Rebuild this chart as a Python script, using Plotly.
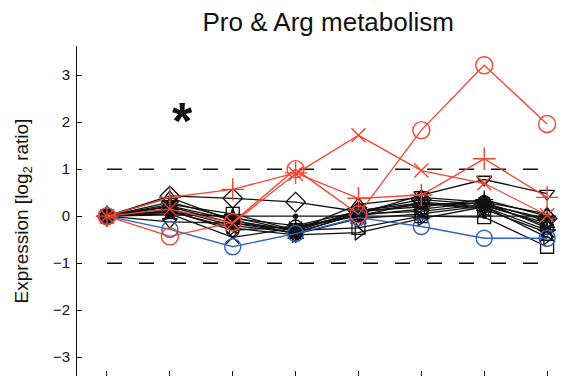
import plotly.graph_objects as go

x_vals = [1, 2, 3, 4, 5, 6, 7, 8]
y_ticks = [-3, -2, -1, 0, 1, 2, 3]
threshold_levels = [1, -1]

black_series = {
    "diamond-open":        [0, 0.43, 0.38, 0.30, 0.10, 0.35, 0.25, -0.05],
    "square-open":         [0, 0.25, 0.05, -0.30, -0.25, 0.00, -0.02, -0.65],
    "triangle-down-open":  [0, -0.12, -0.15, -0.35, 0.05, 0.45, 0.78, 0.48],
    "triangle-up-open":    [0, 0.40, -0.10, -0.30, 0.25, 0.40, 0.30, 0.05],
    "triangle-right-open": [0, 0.10, -0.25, -0.40, -0.35, -0.05, 0.20, -0.45],
    "triangle-left-open":  [0, 0.15, -0.20, -0.35, 0.05, 0.10, 0.25, -0.20],
    "x-thin-open":         [0, 0.05, -0.45, -0.25, 0.00, 0.30, 0.20, -0.30],
    "cross-thin-open":     [0, 0.30, -0.05, -0.20, 0.10, 0.20, 0.35, 0.00],
    "asterisk-open":       [0, 0.20, -0.15, -0.28, 0.08, 0.25, 0.28, -0.10],
    "circle-open":         [0, 0.12, -0.30, -0.22, 0.02, 0.15, 0.30, -0.25],
    "hexagram-open":       [0, 0.22, -0.08, -0.38, -0.05, 0.05, 0.22, -0.15],
    "star-open":           [0, 0.08, -0.02, -0.32, 0.12, 0.28, 0.15, -0.35],
    "circle":              [0, 0.03, 0.00, 0.00, 0.00, 0.00, 0.00, 0.00],
}
blue_circle = [0, -0.28, -0.65, -0.37, -0.03, -0.22, -0.47, -0.47]
red_x = [0, 0.15, -0.15, 0.90, 1.72, 0.97, 0.70, 0.02]
red_plus = [0, 0.40, 0.57, 0.92, 0.38, 0.45, 1.22, 0.40]
red_circle = [0, -0.43, -0.13, 1.00, 0.04, 1.83, 3.21, 1.96]

BLACK = "#111111"
RED = "#f2452f"
BLUE = "#2f63c4"
FONT = "Liberation Sans, Arial, sans-serif"

fig = go.Figure()

for sym, vals in black_series.items():
    size = 4 if sym == "circle" else (15 if sym == "diamond-open" else 13)
    fig.add_trace(go.Scatter(
        x=x_vals, y=vals, mode="lines+markers",
        line=dict(color=BLACK, width=1.3),
        marker=dict(symbol=sym, size=size, color=BLACK, line=dict(color=BLACK, width=1.3)),
        showlegend=False, hoverinfo="skip"))

fig.add_trace(go.Scatter(
    x=x_vals, y=blue_circle, mode="lines+markers",
    line=dict(color=BLUE, width=1.3),
    marker=dict(symbol="circle-open", size=16, color=BLUE, line=dict(color=BLUE, width=1.4)),
    showlegend=False, hoverinfo="skip"))

for vals, sym, size in [(red_x, "x-thin-open", 14), (red_plus, "cross-thin-open", 16), (red_circle, "circle-open", 17)]:
    fig.add_trace(go.Scatter(
        x=x_vals, y=vals, mode="lines+markers",
        line=dict(color=RED, width=1.3),
        marker=dict(symbol=sym, size=size, color=RED, line=dict(color=RED, width=1.4)),
        showlegend=False, hoverinfo="skip"))

for lvl in threshold_levels:
    fig.add_shape(type="line", xref="x", yref="y", x0=x_vals[0], x1=x_vals[-1], y0=lvl, y1=lvl,
                  line=dict(color=BLACK, width=1.5, dash="15px,17px"), layer="below")

fig.add_annotation(x=2.2, y=2.17, xref="x", yref="y", text="<b>*</b>", showarrow=False,
                   font=dict(size=52, color=BLACK, family=FONT), yshift=-7)

# page body has an 8px offset: margins are compensated for it
fig.update_layout(
    width=576, height=376,
    margin=dict(l=69, r=8, t=38, b=8),
    paper_bgcolor="white", plot_bgcolor="white",
    font=dict(family=FONT, color=BLACK),
    title=dict(text="Pro & Arg metabolism", x=0.556, xanchor="center", y=0.964, yanchor="middle",
               font=dict(size=26, color=BLACK)),
    xaxis=dict(range=[0.523, 8.46], tickvals=x_vals, ticks="inside", ticklen=5, tickcolor=BLACK,
               showticklabels=False, showgrid=False, zeroline=False, showline=False),
    yaxis=dict(range=[-3.4, 3.62], tickvals=y_ticks, ticks="inside", ticklen=5, tickcolor=BLACK,
               showgrid=False, zeroline=False, showline=True, linecolor=BLACK, linewidth=1,
               tickfont=dict(size=15), ticklabelstandoff=3,
               title=dict(text="Expression [log<sub>2</sub> ratio]", font=dict(size=19), standoff=19)),
)

fig.write_html("out.html")
